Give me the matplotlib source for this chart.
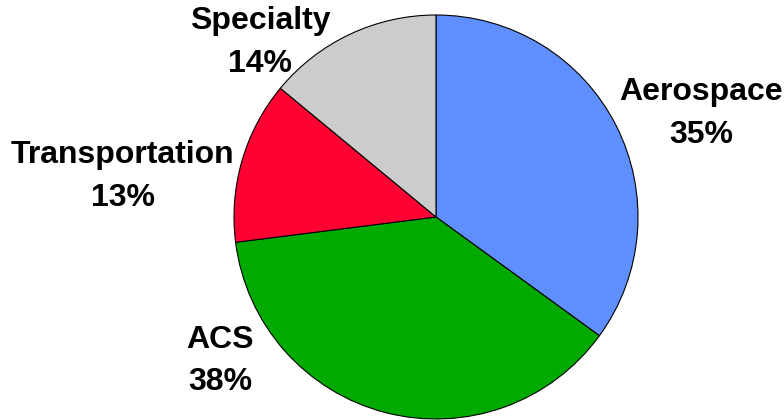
import matplotlib
matplotlib.use('Agg')
import matplotlib.pyplot as plt

# segment shares, clockwise from 12 o'clock
segments = ['Aerospace', 'ACS', 'Transportation', 'Specialty']
shares = [35, 38, 13, 14]
colors = ['#5F8FFF', '#00AA00', '#FF0033', '#CCCCCC']

# label anchor points in pie-radius units
label_pos = [(1.314, 0.512), (-1.069, -0.713), (-1.55, 0.20), (-0.871, 0.862)]

plt.rcParams['font.family'] = ['Liberation Sans', 'DejaVu Sans']

fig = plt.figure(figsize=(7.84, 4.2), dpi=100)
ax = fig.add_axes([0, 0, 1, 1])
ax.pie(shares, colors=colors, startangle=90, counterclock=False,
       radius=1.0, center=(0, 0),
       wedgeprops={'edgecolor': 'black', 'linewidth': 0.8})

for name, pct, (x, y) in zip(segments, shares, label_pos):
    ax.text(x, y, '%s\n%d%%' % (name, pct), ha='center', va='center',
            fontsize=23, fontweight='bold', linespacing=1.56)

# keep the pie at a fixed spot in the figure
scale = 202.0
ax.set_xlim(-436 / scale, (784 - 436) / scale)
ax.set_ylim(-(420 - 217) / scale, 217 / scale)
ax.set_aspect('auto')
ax.axis('off')

plt.savefig('out.png', dpi=100)
